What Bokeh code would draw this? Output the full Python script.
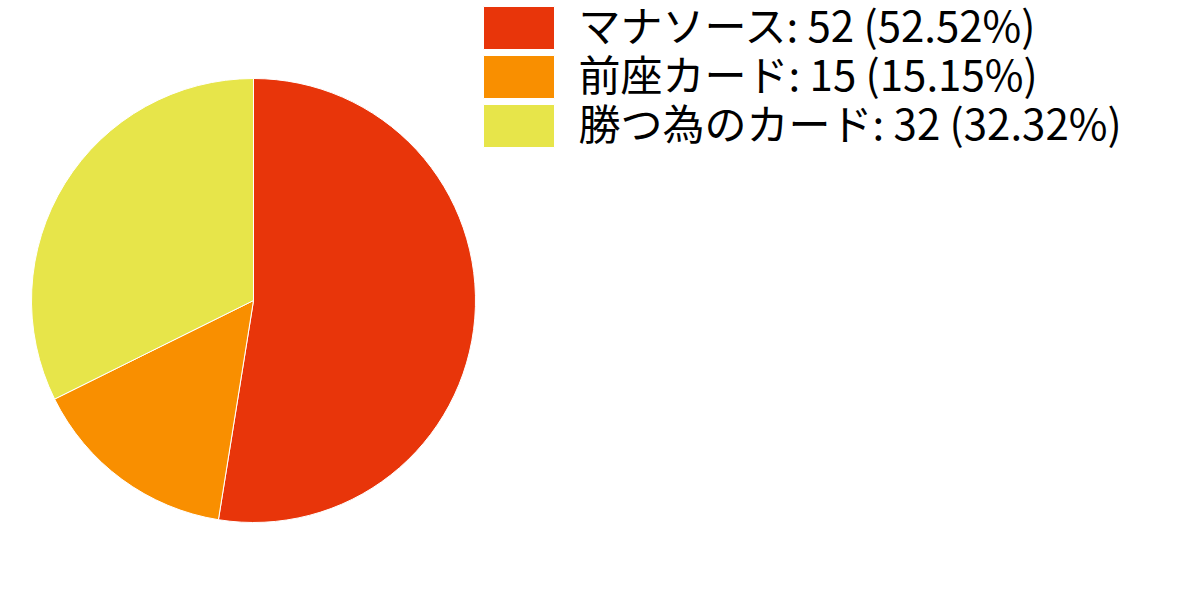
import math
from bokeh.plotting import figure
from bokeh.models import Range1d, ColumnDataSource
from bokeh.core.properties import value
from bokeh.embed import file_html
from bokeh.resources import INLINE

categories = ["マナソース", "前座カード", "勝つ為のカード"]
counts = [52, 15, 32]
colors = ["#E8350A", "#F98F00", "#E7E54A"]

W, H = 1184, 584
p = figure(width=W, height=H, output_backend="svg", toolbar_location=None,
           x_range=Range1d(0, W), y_range=Range1d(H, 0), min_border=0)
p.axis.visible = False
p.grid.visible = False
p.outline_line_color = None

total = sum(counts)
# pie geometry (screen pixels)
cx, cy, r = 253, 300, 222
starts, ends = [], []
acc = 0.0
for c in counts:
    a0 = acc / total * 2 * math.pi
    acc += c
    a1 = acc / total * 2 * math.pi
    starts.append(math.pi / 2 - a0)
    ends.append(math.pi / 2 - a1)

pie_src = ColumnDataSource(dict(start=starts, end=ends, color=colors, cat=categories))
p.wedge(x=cx, y=cy, radius=r, start_angle="start", end_angle="end", direction="clock",
        fill_color="color", line_color="white", line_width=1, source=pie_src)

# legend (drawn as marks at fixed layout positions)
pcts = [math.floor(c / total * 10000) / 100 for c in counts]
labels = [f"{n}: {c} ({pc:.2f}%)" for n, c, pc in zip(categories, counts, pcts)]
lx0, ly0, box_w, box_h, pitch = 483, 6, 71, 43, 49
box_x = [lx0 + box_w / 2] * len(counts)
box_y = [ly0 + box_h / 2 + i * pitch for i in range(len(counts))]
text_x = [578] * len(counts)
text_y = [ly0 + box_h / 2 - 5 + i * pitch for i in range(len(counts))]
leg_src = ColumnDataSource(dict(bx=box_x, by=box_y, tx=text_x, ty=text_y, color=colors, label=labels))
p.rect(x="bx", y="by", width=box_w, height=box_h, fill_color="color",
       line_color="white", line_width=1, source=leg_src)
p.text(x="tx", y="ty", text="label", text_font=value("Noto Sans CJK JP"),
       text_font_size="42px", text_color="#000000", text_baseline="alphabetic",
       text_align="left", source=leg_src)

open("out.html", "w").write(file_html(p, INLINE))
